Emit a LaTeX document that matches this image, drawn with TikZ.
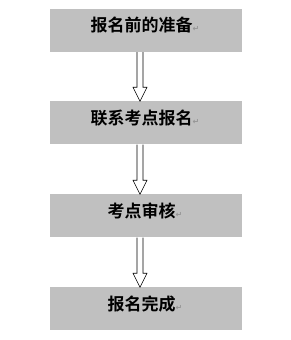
\documentclass[tikz,border=0pt]{standalone}
\usepackage{fontspec}
\newfontfamily\cjk{Noto Sans CJK SC}[BoldFont={Noto Sans CJK SC Bold}]
\newfontfamily\dv{DejaVu Sans}
\usetikzlibrary{calc}
\definecolor{boxgray}{RGB}{192,192,192}
\definecolor{markgray}{RGB}{150,150,150}
\tikzset{
  stepbox/.style={fill=boxgray, draw=none, minimum width=192pt, minimum height=43pt, inner sep=0pt},
  lbl/.style={font=\cjk\bfseries\fontsize{17pt}{17pt}\selectfont, text=black, inner sep=0pt},
  blockarrow/.style={draw=black, fill=white, line width=0.6pt, line join=miter}
}
\newcommand{\pmark}{{\dv\fontsize{8pt}{8pt}\selectfont\textcolor{markgray}{↵}}}
\begin{document}
\begin{tikzpicture}[x=1pt,y=1pt]
\useasboundingbox (0,0) rectangle (290,340);
\node[stepbox] (a) at (146,309.5) {};
\node[stepbox] (b) at (146,217) {};
\node[stepbox] (c) at (146,124) {};
\node[stepbox] (d) at (146,31) {};
\node[lbl] (ta) at ($(a.center)+(-1,5)$) {报名前的准备\pmark};
\node[lbl] (tb) at ($(b.center)+(-1,5)$) {联系考点报名\pmark};
\node[lbl] (tc) at ($(c.center)+(-1,5)$) {考点审核\pmark};
\node[lbl] (td) at ($(d.center)+(-1,5)$) {报名完成\pmark};
\foreach \u/\v in {a/b,b/c,c/d}{
  \draw[blockarrow]
    ($(\u.south)+(-9,0)$) -- ($(\v.north)+(-9,14)$) -- ($(\v.north)+(-13,14)$)
    -- ($(\v.north)+(-6,0)$) -- ($(\v.north)+(1,14)$) -- ($(\v.north)+(-3,14)$)
    -- ($(\u.south)+(-3,0)$);
}
\end{tikzpicture}
\end{document}
